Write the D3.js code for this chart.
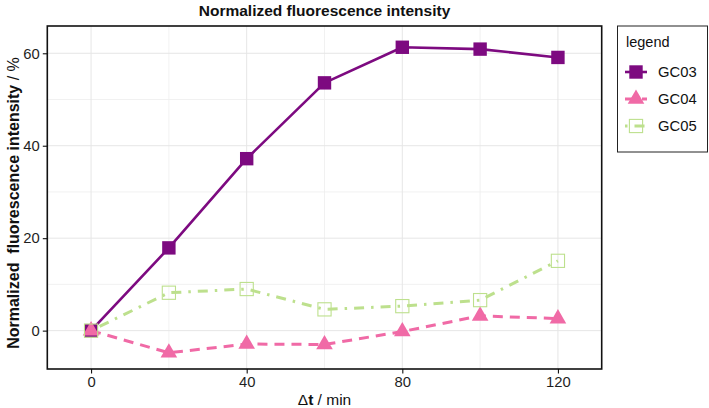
<!DOCTYPE html>
<html lang="en">
<head>
<meta charset="utf-8">
<title>Normalized fluorescence intensity</title>
<script src="https://d3js.org/d3.v7.min.js"></script>
<style>
  body { margin: 0; background: #fff; }
  text { font-family: "Liberation Sans", Arial, sans-serif; }
</style>
</head>
<body>
<div id="chart"></div>
<script>
// time points (min) and normalized intensities (%)
var times = [0, 20, 40, 60, 80, 100, 120];
var gc03 = [0, 17.9, 37.2, 53.6, 61.3, 60.9, 59.1];
var gc04 = [0, -4.8, -2.9, -3.0, -0.2, 3.2, 2.6];
var gc05 = [0, 8.2, 9.0, 4.6, 5.3, 6.6, 15.1];
var seriesNames = ["GC03", "GC04", "GC05"];

var xTicks = [0, 40, 80, 120];
var yTicks = [0, 20, 40, 60];
var xMinor = [20, 60, 100];
var yMinor = [10, 30, 50];

var width = 709, height = 408;
var panel = { left: 47.3, right: 601.7, top: 26, bottom: 369 };

var svg = d3.select("#chart").append("svg")
  .attr("width", width)
  .attr("height", height);

var x = d3.scaleLinear().domain([-11.25, 131.25]).range([panel.left, panel.right]);
var y = d3.scaleLinear().domain([-8.3, 65.9]).range([panel.bottom, panel.top]);

// styles per series
var styles = {
  GC03: { color: "#7D0A80", width: 2.6, dash: null, shape: "square" },
  GC04: { color: "#F06AA6", width: 3, dash: "10,7", shape: "triangle" },
  GC05: { color: "#BDE08D", width: 3, dash: "2.5,7,10,7", shape: "open" }
};

var series = [
  { name: "GC03", values: gc03 },
  { name: "GC04", values: gc04 },
  { name: "GC05", values: gc05 }
];

// grid
var grid = svg.append("g");
grid.selectAll(".vminor").data(xMinor).enter().append("line")
  .attr("x1", d => x(d)).attr("x2", d => x(d))
  .attr("y1", panel.top).attr("y2", panel.bottom)
  .attr("stroke", "#EDEDED").attr("stroke-width", 0.8);
grid.selectAll(".hminor").data(yMinor).enter().append("line")
  .attr("y1", d => y(d)).attr("y2", d => y(d))
  .attr("x1", panel.left).attr("x2", panel.right)
  .attr("stroke", "#EDEDED").attr("stroke-width", 0.8);
grid.selectAll(".vmajor").data(xTicks).enter().append("line")
  .attr("x1", d => x(d)).attr("x2", d => x(d))
  .attr("y1", panel.top).attr("y2", panel.bottom)
  .attr("stroke", "#E6E6E6").attr("stroke-width", 1);
grid.selectAll(".hmajor").data(yTicks).enter().append("line")
  .attr("y1", d => y(d)).attr("y2", d => y(d))
  .attr("x1", panel.left).attr("x2", panel.right)
  .attr("stroke", "#E6E6E6").attr("stroke-width", 1);

// lines
var line = d3.line()
  .x((d, i) => x(times[i]))
  .y(d => y(d));

series.forEach(function(s) {
  var st = styles[s.name];
  svg.append("path")
    .datum(s.values)
    .attr("d", line)
    .attr("fill", "none")
    .attr("stroke", st.color)
    .attr("stroke-width", st.width)
    .attr("stroke-dasharray", st.dash)
    .attr("stroke-linejoin", "round");
});

// markers
function drawMarker(g, shape, color, cx, cy) {
  if (shape === "square") {
    g.append("rect").attr("x", cx - 6.7).attr("y", cy - 6.7)
      .attr("width", 13.4).attr("height", 13.4).attr("fill", color);
  } else if (shape === "triangle") {
    var s = 16.6, h = s * Math.sqrt(3) / 2;
    g.append("path")
      .attr("d", "M" + cx + "," + (cy - h * 2 / 3) + "L" + (cx + s / 2) + "," + (cy + h / 3) +
                 "L" + (cx - s / 2) + "," + (cy + h / 3) + "Z")
      .attr("fill", color);
  } else {
    g.append("rect").attr("x", cx - 6.6).attr("y", cy - 6.6)
      .attr("width", 13.2).attr("height", 13.2)
      .attr("fill", "none").attr("stroke", color).attr("stroke-width", 1.1);
  }
}

var pts = svg.append("g");
series.forEach(function(s) {
  var st = styles[s.name];
  s.values.forEach(function(v, i) {
    drawMarker(pts, st.shape, st.color, x(times[i]), y(v));
  });
});

// panel border
svg.append("rect")
  .attr("x", panel.left).attr("y", panel.top)
  .attr("width", panel.right - panel.left).attr("height", panel.bottom - panel.top)
  .attr("fill", "none").attr("stroke", "#111").attr("stroke-width", 1.6);

// axes
var xAxis = svg.append("g")
  .attr("transform", "translate(0," + panel.bottom + ")")
  .call(d3.axisBottom(x).tickValues(xTicks).tickSize(4.5).tickPadding(3));
var yAxis = svg.append("g")
  .attr("transform", "translate(" + panel.left + ",0)")
  .call(d3.axisLeft(y).tickValues(yTicks).tickSize(4.5).tickPadding(3));

[xAxis, yAxis].forEach(function(a) {
  a.select(".domain").remove();
  a.selectAll(".tick line").attr("stroke", "#111").attr("stroke-width", 1.1);
  a.selectAll(".tick text")
    .attr("fill", "#1f1f1f")
    .style("font-family", "'Liberation Sans', Arial, sans-serif")
    .style("font-size", "14.8px");
});

// title
svg.append("text")
  .attr("x", (panel.left + panel.right) / 2)
  .attr("y", 16)
  .attr("text-anchor", "middle")
  .style("font-weight", "bold")
  .style("font-size", "15.5px")
  .attr("fill", "#111")
  .text("Normalized fluorescence intensity");

// x axis title
var xt = svg.append("text")
  .attr("x", (panel.left + panel.right) / 2)
  .attr("y", 405)
  .attr("text-anchor", "middle")
  .style("font-size", "15.5px")
  .attr("fill", "#111");
xt.append("tspan").text("\u0394");
xt.append("tspan").style("font-weight", "bold").text("t");
xt.append("tspan").text(" / min");

// y axis title
var yt = svg.append("text")
  .attr("transform", "translate(19,203) rotate(-90)")
  .attr("text-anchor", "middle")
  .style("font-size", "16px")
  .attr("fill", "#111");
yt.append("tspan").style("font-weight", "bold").text("Normalized\u00a0 fluorescence intensity");
yt.append("tspan").text(" / %");

// legend
var lg = svg.append("g");
lg.append("rect")
  .attr("x", 617.5).attr("y", 26)
  .attr("width", 90).attr("height", 126)
  .attr("fill", "#fff").attr("stroke", "#222").attr("stroke-width", 1);
lg.append("text")
  .attr("x", 626).attr("y", 47)
  .style("font-size", "14.5px")
  .attr("fill", "#111")
  .text("legend");

var legendY = d3.scalePoint().domain(seriesNames).range([72, 126]);
seriesNames.forEach(function(n) {
  var st = styles[n];
  var cy = legendY(n);
  lg.append("line")
    .attr("x1", 625).attr("x2", 647)
    .attr("y1", cy).attr("y2", cy)
    .attr("stroke", st.color).attr("stroke-width", st.width)
    .attr("stroke-dasharray", st.dash);
  drawMarker(lg, st.shape, st.color, 636, cy);
  lg.append("text")
    .attr("x", 658).attr("y", cy + 5.3)
    .style("font-size", "14.8px")
    .attr("fill", "#111")
    .text(n);
});
</script>
</body>
</html>
